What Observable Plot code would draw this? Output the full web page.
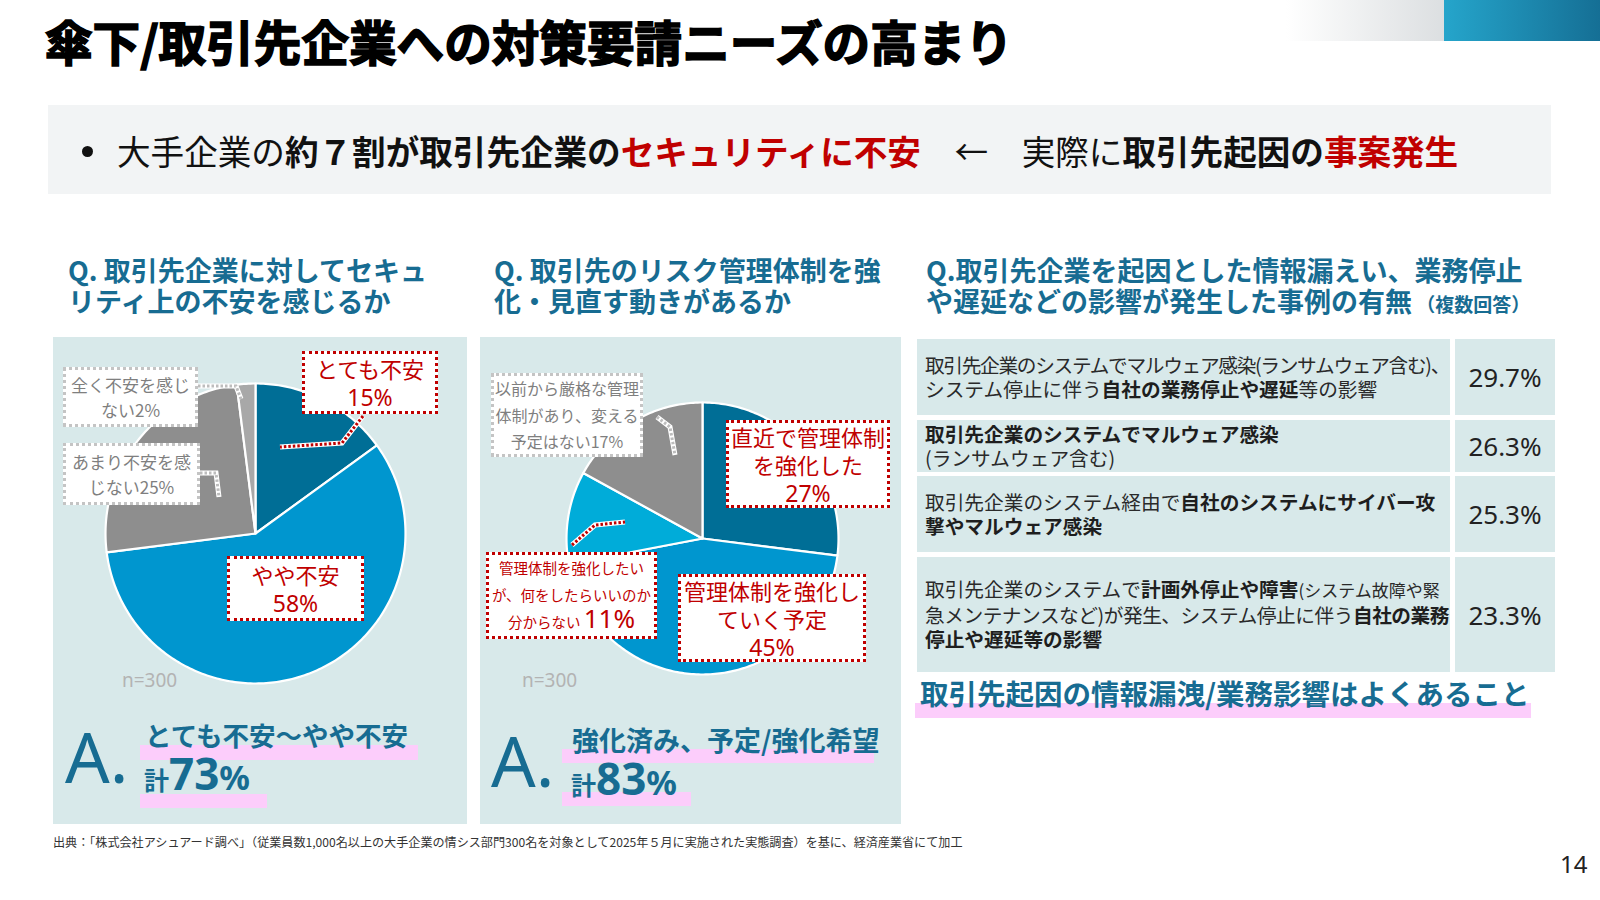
<!DOCTYPE html>
<html lang="ja">
<head>
<meta charset="utf-8">
<script src="https://cdn.jsdelivr.net/npm/d3@7"></script>
<script src="https://cdn.jsdelivr.net/npm/@observablehq/plot@0.6"></script>
<style>
html,body{margin:0;padding:0;background:#fff;}
#slide{position:relative;width:1600px;height:900px;overflow:hidden;background:#fff;
  font-family:"Noto Sans CJK JP","Noto Sans",sans-serif;color:#222;}
.abs{position:absolute;white-space:nowrap;}
.panel{position:absolute;background:#d8e9ea;}
.q{position:absolute;font-size:27px;font-weight:700;line-height:31px;height:31px;color:#176c92;white-space:nowrap;}
.box{position:absolute;box-sizing:border-box;background:#fff;display:flex;align-items:center;justify-content:center;
  text-align:center;}
.box > div{white-space:pre;}
.red{border:3px dotted #c00000;color:#c00000;}
.gray{border:3px dotted #c4c4c4;color:#7f7f7f;}
.hl{position:absolute;background:#fccdfb;}
.ans{position:absolute;color:#176c92;font-weight:700;white-space:nowrap;}
.bigA{position:absolute;font-family:"Noto Sans",sans-serif;font-size:70px;line-height:70px;color:#176c92;}
.n{position:absolute;font-family:"Noto Sans",sans-serif;font-size:19px;line-height:22px;color:#b3b3b3;}
.cell{position:absolute;background:#d8e9ea;box-sizing:border-box;display:flex;flex-direction:column;justify-content:center;align-items:flex-start;}
.cell .ln{font-size:19.7px;line-height:24.5px;white-space:nowrap;color:#2a2a2a;}
.cell b{font-weight:700;color:#1e1e1e;}
.cell .sm{font-size:17px;}
.val{align-items:center;font-family:"Noto Sans",sans-serif;font-size:26px;color:#222;}
</style>
</head>
<body>
<div id="slide"></div>
<script>
// ---------------- data ----------------
const titleText = "傘下/取引先企業への対策要請ニーズの高まり";
const q1Lines = ["Q. 取引先企業に対してセキュ", "リティ上の不安を感じるか"];
const q2Lines = ["Q. 取引先のリスク管理体制を強", "化・見直す動きがあるか"];
const q3Lines = ["Q.取引先企業を起因とした情報漏えい、業務停止", "や遅延などの影響が発生した事例の有無"];
const q3Note = "（複数回答）";

const pie1Categories = ["とても不安", "やや不安", "あまり不安を感じない", "全く不安を感じない"];
const pie1Values = [15, 58, 25, 2];
const pie1LabelText = ["とても不安\n", "やや不安\n", "あまり不安を感\nじない", "全く不安を感じ\nない"];

const pie2Categories = ["直近で管理体制を強化した", "管理体制を強化していく予定",
  "管理体制を強化したいが、何をしたらいいのか分からない", "以前から厳格な管理体制があり、変える予定はない"];
const pie2Values = [27, 45, 11, 17];
const pie2LabelText = ["直近で管理体制\nを強化した\n", "管理体制を強化し\nていく予定\n",
  "管理体制を強化したい\nが、何をしたらいいのか\n分からない ", "以前から厳格な管理\n体制があり、変える\n予定はない"];

const sampleSize = 300;
const answer1 = "とても不安～やや不安";
const answer2 = "強化済み、予定/強化希望";

const tableItems = [
  "取引先企業のシステムでマルウェア感染(ランサムウェア含む)、\nシステム停止に伴う自社の業務停止や遅延等の影響",
  "取引先企業のシステムでマルウェア感染\n(ランサムウェア含む)",
  "取引先企業のシステム経由で自社のシステムにサイバー攻\n撃やマルウェア感染",
  "取引先企業のシステムで計画外停止や障害(システム故障や緊\n急メンテナンスなど)が発生、システム停止に伴う自社の業務\n停止や遅延等の影響"
];
const tableEmphasis = [
  ["自社の業務停止や遅延"],
  ["取引先企業のシステムでマルウェア感染"],
  ["自社のシステムにサイバー攻", "撃やマルウェア感染"],
  ["計画外停止や障害", "自社の業務", "停止や遅延等の影響"]
];
const tableAside = [[], [], [], ["(システム故障や緊"]];
const tableValues = [29.7, 26.3, 25.3, 23.3];
const conclusion = "取引先起因の情報漏洩/業務影響はよくあること";
const sourceNote = "出典：「株式会社アシュアード調べ」（従業員数1,000名以上の大手企業の情シス部門300名を対象として2025年５月に実施された実態調査）を基に、経済産業省にて加工";
const pageNumber = "14";

// ---------------- styles / layout ----------------
const palette1 = ["#006e96", "#0096cf", "#8e8e8e", "#a8a8a8"];
const palette2 = ["#006e96", "#0096cf", "#00acd9", "#8e8e8e"];
const slide = document.getElementById("slide");
const add = html => slide.insertAdjacentHTML("beforeend", html);

// decorations top-right
add(`<div class="abs" style="left:1286px;top:0;width:158px;height:41px;background:linear-gradient(90deg,#ffffff,#dcdfe1)"></div>`);
add(`<div class="abs" style="left:1444px;top:0;width:156px;height:41px;background:linear-gradient(90deg,#25a5cb,#156f95)"></div>`);

// title
add(`<div class="abs" style="left:45px;top:17px;font-size:47.6px;line-height:48px;font-weight:700;color:#000;-webkit-text-stroke:1.6px #000;">${titleText}</div>`);

// banner
add(`<div class="abs" style="left:48px;top:105px;width:1503px;height:89px;background:#f2f4f5"></div>`);
add(`<div class="abs" style="left:82px;top:146px;width:11px;height:11px;border-radius:50%;background:#111"></div>`);
add(`<div class="abs" style="left:117px;top:133px;font-size:33.6px;line-height:36px;color:#111;">` +
  `大手企業の<b>約７割が取引先企業の</b><b style="color:#c00000">セキュリティに不安</b>　←　実際に<b>取引先起因の</b><b style="color:#c00000">事案発生</b></div>`);

// questions
const qAt = (lines, left, extra = "") => lines.forEach((l, i) =>
  add(`<div class="q" style="left:${left}px;top:${254 + 31 * i}px">${l}${i === lines.length - 1 ? extra : ""}</div>`));
qAt(q1Lines, 68);
qAt(q2Lines, 494);
qAt(q3Lines, 926, `<span style="font-size:19px"> ${q3Note}</span>`);

// panels
add(`<div class="panel" style="left:53px;top:337px;width:414px;height:487px"></div>`);
add(`<div class="panel" style="left:480px;top:337px;width:421px;height:487px"></div>`);

// pies with Plot
function pie(categories, values, palette, r, cx, cy) {
  const arcs = d3.pie().sort(null).value(d => d)(values);
  const pts = arcs.flatMap((a, i) => {
    const n = Math.max(2, Math.ceil((a.endAngle - a.startAngle) * 180 / Math.PI));
    return [{cat: categories[i], x: 0, y: 0},
      ...d3.range(n + 1).map(j => {
        const t = a.startAngle + (a.endAngle - a.startAngle) * j / n;
        return {cat: categories[i], x: Math.sin(t), y: Math.cos(t)};
      })];
  });
  const pad = 5 / r, size = Math.round(2 * (r + 5));
  const svg = Plot.plot({
    width: size, height: size, margin: 0,
    style: {background: "transparent", overflow: "visible"},
    x: {domain: [-1 - pad, 1 + pad], axis: null},
    y: {domain: [-1 - pad, 1 + pad], axis: null},
    color: {domain: categories, range: palette},
    marks: [Plot.line(pts, {x: "x", y: "y", z: "cat", fill: "cat", stroke: "white", strokeWidth: 2.2, curve: "linear-closed"})]
  });
  svg.style.position = "absolute";
  svg.style.left = (cx - size / 2) + "px";
  svg.style.top = (cy - size / 2) + "px";
  slide.appendChild(svg);
}
pie(pie1Categories, pie1Values, palette1, 150, 255, 533);
pie(pie2Categories, pie2Values, palette2, 136, 702, 538);

// leader lines
const leaders = [
  {c: "#c00000", p: "363,416 342,443 280,447"},
  {c: "#bdbdbd", p: "198,386 236,386 241,399"},
  {c: "#bdbdbd", p: "200,473 216,473 219,497"},
  {c: "#bdbdbd", p: "657,417 670,427 675,455"},
  {c: "#c00000", p: "572,545 595,525 625,522"}
];
add(`<svg class="abs" style="left:0;top:0" width="1600" height="900">` +
  leaders.map(l => `<polyline points="${l.p}" fill="none" stroke="#fff" stroke-width="5"/><polyline points="${l.p}" fill="none" stroke="${l.c}" stroke-width="3" stroke-dasharray="2.5 2"/>`).join("") +
  `</svg>`);

// label boxes
const pct = v => `${v}%`;
const box = (cls, x, y, w, h, fs, lh, html) =>
  add(`<div class="box ${cls}" style="left:${x}px;top:${y}px;width:${w}px;height:${h}px;font-size:${fs}px;line-height:${lh}px"><div>${html}</div></div>`);
box("red", 302, 351, 136, 63, 22, 28, `${pie1LabelText[0]}<span style="font-family:'Noto Sans';font-size:23px">${pct(pie1Values[0])}</span>`);
box("red", 227, 556, 137, 65, 22, 28, `${pie1LabelText[1]}<span style="font-family:'Noto Sans';font-size:23px">${pct(pie1Values[1])}</span>`);
box("gray", 63, 443, 137, 62, 17, 25, `${pie1LabelText[2]}${pct(pie1Values[2])}`);
box("gray", 63, 367, 135, 60, 17, 25, `${pie1LabelText[3]}${pct(pie1Values[3])}`);

box("red", 726, 420, 164, 88, 22, 28, `${pie2LabelText[0]}<span style="font-family:'Noto Sans';font-size:23px">${pct(pie2Values[0])}</span>`);
box("red", 678, 574, 188, 88, 22, 28, `${pie2LabelText[1]}<span style="font-family:'Noto Sans';font-size:23px">${pct(pie2Values[1])}</span>`);
box("red", 486, 552, 171, 87, 14.5, 26.5, `${pie2LabelText[2]}<span style="font-family:'Noto Sans';font-size:26px;line-height:20px">${pct(pie2Values[2])}</span>`);
box("gray", 491, 373, 152, 84, 16, 26.5, `${pie2LabelText[3]}${pct(pie2Values[3])}`);

// n labels
add(`<div class="n" style="left:122px;top:669px">n=${sampleSize}</div>`);
add(`<div class="n" style="left:522px;top:669px">n=${sampleSize}</div>`);

// answers
const total1 = pie1Values[0] + pie1Values[1];
const total2 = pie2Values[0] + pie2Values[1] + pie2Values[2];
add(`<div class="hl" style="left:140px;top:745px;width:278px;height:15px"></div>`);
add(`<div class="hl" style="left:140px;top:794px;width:127px;height:14px"></div>`);
add(`<div class="bigA" style="left:65px;top:721px">A.</div>`);
add(`<div class="ans" style="left:145px;top:721px;font-size:26.5px;line-height:28px">${answer1}</div>`);
add(`<div class="ans" style="left:144px;top:749px;font-family:'Noto Sans',sans-serif;font-size:44px;line-height:48px"><span style="font-family:'Noto Sans CJK JP';font-size:25px">計</span>${total1}<span style="font-size:34px">%</span></div>`);

add(`<div class="hl" style="left:562px;top:749px;width:312px;height:14px"></div>`);
add(`<div class="hl" style="left:562px;top:792px;width:129px;height:14px"></div>`);
add(`<div class="bigA" style="left:491px;top:725px">A.</div>`);
add(`<div class="ans" style="left:572px;top:726px;font-size:27px;line-height:28px">${answer2}</div>`);
add(`<div class="ans" style="left:571px;top:754px;font-family:'Noto Sans',sans-serif;font-size:44px;line-height:48px"><span style="font-family:'Noto Sans CJK JP';font-size:25px">計</span>${total2}<span style="font-size:34px">%</span></div>`);

// table
const rowLayout = [[339, 76], [420, 52], [476, 76], [557, 115]];
tableItems.forEach((item, i) => {
  const [top, h] = rowLayout[i];
  const lines = item.split("\n").map(line => {
    let html = line;
    tableAside[i].forEach(s => { html = html.replace(s, `<span class="sm">${s}</span>`); });
    tableEmphasis[i].forEach(s => { html = html.replace(s, `<b>${s}</b>`); });
    return `<div class="ln">${html}</div>`;
  }).join("");
  add(`<div class="cell" style="left:917px;top:${top}px;width:533px;height:${h}px;padding-left:8px">${lines}</div>`);
  add(`<div class="cell val" style="left:1455px;top:${top}px;width:100px;height:${h}px">${tableValues[i].toFixed(1)}%</div>`);
});
// fit over-long table lines inside their cell
slide.querySelectorAll(".cell .ln").forEach(el => {
  const w = el.getBoundingClientRect().width, maxW = 524;
  if (w > maxW) el.style.letterSpacing = ((maxW - w) / el.textContent.length) + "px";
});

// conclusion
add(`<div class="hl" style="left:915px;top:703px;width:616px;height:15px"></div>`);
add(`<div class="ans" style="left:920px;top:678px;font-size:28.5px;line-height:30px">${conclusion}</div>`);

// footer
add(`<div class="abs" style="left:53px;top:835px;font-size:12.1px;line-height:14px;color:#333">${sourceNote}</div>`);
add(`<div class="abs" style="left:1560px;top:852px;font-family:'Noto Sans',sans-serif;font-size:24px;line-height:24px;color:#222">${pageNumber}</div>`);
</script>
</body>
</html>
